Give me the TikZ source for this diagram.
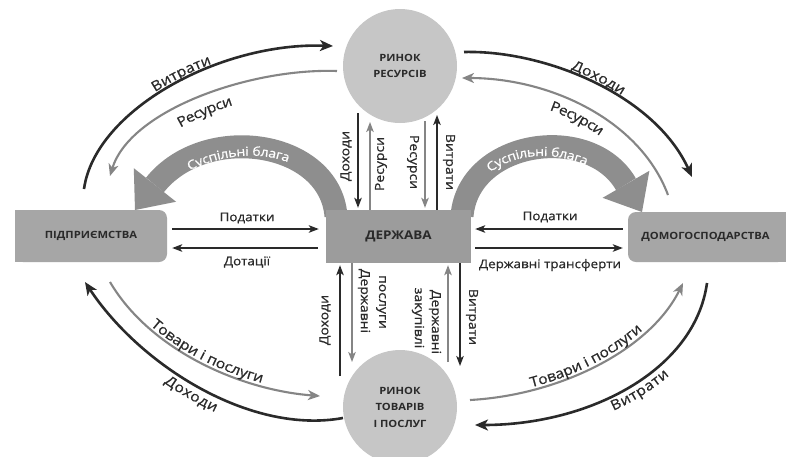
\documentclass[tikz,border=0pt]{standalone}
\usepackage{fontspec}
\setmainfont{Open Sans}[FakeStretch=1.12, UprightFeatures={FakeBold=0.7}]
\usetikzlibrary{arrows.meta,decorations.text}
\definecolor{dk}{HTML}{2A2A2A}
\definecolor{gr}{HTML}{858585}
\definecolor{boxc}{HTML}{A6A6A6}
\definecolor{ctrc}{HTML}{9C9C9C}
\definecolor{circc}{HTML}{C6C6C6}
\definecolor{bandc}{HTML}{8E8E8E}
\newcommand\arcfont{\fontsize{14}{14}\selectfont}
\newcommand\bandfont{\fontsize{12.5}{13}\selectfont}
\begin{document}
\begin{tikzpicture}[x=1pt,y=-1pt,
  arcdark/.style={draw=dk, line width=2.6pt, -{Stealth[length=13pt,width=11pt,inset=3.5pt]}},
  arcgrey/.style={draw=gr, line width=2.1pt, -{Stealth[length=12pt,width=10pt,inset=3.5pt]}},
  flowdark/.style={draw=dk, line width=1.6pt, -{Stealth[length=10pt,width=7.5pt,inset=2.5pt]}},
  flowgrey/.style={draw=gr, line width=1.6pt, -{Stealth[length=10pt,width=7.5pt,inset=2.5pt]}},
  bandarrow/.style={draw=bandc, line width=23pt, -{Triangle[length=32pt,width=54pt,line width=0pt]}},
  hlabel/.style={font=\fontsize{12}{13}\selectfont, text=dk, inner sep=0pt},
  vlabel/.style={font=\fontsize{12.5}{13}\selectfont, text=dk, inner sep=0pt},
  boxlabel/.style={font=\bfseries\fontsize{10}{12}\selectfont, text=dk, inner sep=0pt},
  market/.style={circle, fill=circc, minimum size=114pt, inner sep=0pt, align=center,
    font=\bfseries\fontsize{10}{16.5}\selectfont, text=dk},
  arclabel/.style={decorate, decoration={text along path, text align=center, text color=dk, #1}}
]
\fill[white] (0,0) rectangle (786,456);
\useasboundingbox (0,0) rectangle (786,456);

% markets
\node[market] (rr) at (400,66) {РИНОК\\РЕСУРСІВ};
\node[market] (rt) at (400,407) {РИНОК\\ТОВАРІВ\\І ПОСЛУГ};

% social goods bands
\draw[bandarrow] (336,216) .. controls (330,140) and (205,122) .. (135,210);
\draw[bandarrow] (462,216) .. controls (468,140) and (590,122) .. (642,212);
\path[decorate, decoration={text along path, text align={center, right indent=10pt}, raise=-4.5pt, text color=white,
  text={|\bandfont|Суспільні блага}}] (135,210) .. controls (205,122) and (330,140) .. (336,216);
\path[decorate, decoration={text along path, text align={center, right indent=20pt}, raise=-4.5pt, text color=white,
  text={|\bandfont|Суспільні блага}}] (462,216) .. controls (468,140) and (590,122) .. (642,212);

% boxes
\fill[boxc, rounded corners=8pt] (15,210) rectangle (167,262);
\fill[boxc] (15,210) rectangle (100,262);
\node[boxlabel, minimum width=152pt, minimum height=52pt] (pi) at (91,236) {ПІДПРИЄМСТВА};
\fill[boxc, rounded corners=8pt] (628,212) rectangle (786,262);
\fill[boxc] (700,212) rectangle (786,262);
\node[boxlabel, minimum width=155pt, minimum height=50pt] (dg) at (705.5,237) {ДОМОГОСПОДАРСТВА};
\node[fill=ctrc, minimum width=145pt, minimum height=53pt, inner sep=0pt,
  font=\bfseries\fontsize{12}{12}\selectfont, text=dk] (dz) at (398.5,236.5) {ДЕРЖАВА};

% outer and inner arcs
\draw[arcdark] (84,189) .. controls (95,110) and (220,42) .. (333,46);
\path[arclabel={raise=3pt, text={|\arcfont|Витрати}}] (84,189) .. controls (95,110) and (220,42) .. (333,46);
\draw[arcgrey] (337,71) .. controls (250,68) and (130,110) .. (110,176);
\path[decorate, decoration={text along path, text align={center, right indent=20pt}, text color=dk, raise=-19pt,
  text={|\arcfont|Ресурси}}] (110,176) .. controls (130,110) and (250,68) .. (337,71);

\draw[arcdark] (464,52) .. controls (545,50) and (655,95) .. (692,177);
\path[arclabel={raise=3pt, text={|\arcfont|Доходи}}] (464,52) .. controls (545,50) and (655,95) .. (692,177);
\draw[arcgrey] (668,195) .. controls (640,120) and (550,78) .. (462,78);
\path[arclabel={raise=-17pt, text={|\arcfont|Ресурси}}] (462,78) .. controls (550,78) and (640,120) .. (668,195);

\draw[arcdark] (343,418) .. controls (250,435) and (140,365) .. (85,282);
\path[arclabel={raise=-15pt, text={|\arcfont|Доходи}}] (85,282) .. controls (140,365) and (250,435) .. (343,418);
\draw[arcgrey] (110,282) .. controls (150,350) and (240,390) .. (320,396);
\path[arclabel={raise=3pt, text={|\arcfont|Товари і послуги}}] (110,282) .. controls (150,350) and (240,390) .. (320,396);

\draw[arcgrey] (470,400) .. controls (560,395) and (650,350) .. (683,283);
\path[arclabel={raise=3pt, text={|\arcfont|Товари і послуги}}] (470,400) .. controls (560,395) and (650,350) .. (683,283);
\draw[arcdark] (707,283) .. controls (695,370) and (590,425) .. (475,425);
\path[decorate, decoration={text along path, text align={center, left indent=40pt}, text color=dk, raise=-14pt,
  text={|\arcfont|Витрати}}] (475,425) .. controls (590,425) and (695,370) .. (707,283);

% horizontal flows
\coordinate (h1) at (0,229);
\coordinate (h2) at (0,248);
\draw[flowdark, shorten <=5pt, shorten >=7pt] (pi.east |- h1) -- (dz.west |- h1);
\draw[flowdark, shorten <=8pt, shorten >=5pt] (dz.west |- h2) -- (pi.east |- h2);
\draw[flowdark, shorten <=5pt, shorten >=4pt] (dg.west |- h1) -- (dz.east |- h1);
\draw[flowdark, shorten <=4pt, shorten >=5pt] (dz.east |- h2) -- (dg.west |- h2);
\node[hlabel] (lpod) at (247,218) {Податки};
\node[hlabel] (ldot) at (247,262) {Дотації};
\node[hlabel] (rpod) at (550,217) {Податки};
\node[hlabel] (rtr) at (550,265) {Державні трансферти};

% vertical flows, top
\coordinate (v1) at (358,113);
\coordinate (v2) at (370,122);
\coordinate (v3) at (425,121);
\coordinate (v4) at (437,115);
\draw[flowdark, shorten >=2pt] (v1) -- (v1 |- dz.north);
\draw[flowgrey] (v2 |- dz.north) -- (v2);
\draw[flowgrey, shorten >=2pt] (v3) -- (v3 |- dz.north);
\draw[flowdark] (v4 |- dz.north) -- (v4);
\node[vlabel, rotate=90] (t1) at (346,156) {Доходи};
\node[vlabel, rotate=90] (t2) at (381,164) {Ресурси};
\node[vlabel, rotate=-90] (t3) at (413,162) {Ресурси};
\node[vlabel, rotate=-90] (t4) at (449,162) {Витрати};

% vertical flows, bottom
\coordinate (w1) at (340,376);
\coordinate (w2) at (352,362);
\coordinate (w3) at (448,362);
\coordinate (w4) at (460,366);
\draw[flowdark, shorten >=2pt] (w1) -- (w1 |- dz.south);
\draw[flowgrey] (w2 |- dz.south) -- (w2);
\draw[flowgrey, shorten >=2pt] (w3) -- (w3 |- dz.south);
\draw[flowdark] (w4 |- dz.south) -- (w4);
\node[vlabel, rotate=90] (b1) at (325,320) {Доходи};
\node[vlabel, rotate=-90] (b2) at (364,301) {Державні};
\node[vlabel, rotate=-90] (b3) at (381,302) {послуги};
\node[vlabel, rotate=-90] (b4) at (418,318) {закупівлі};
\node[vlabel, rotate=-90] (b5) at (435,322) {Державні};
\node[vlabel, rotate=-90] (b6) at (472,317) {Витрати};
\end{tikzpicture}
\end{document}
